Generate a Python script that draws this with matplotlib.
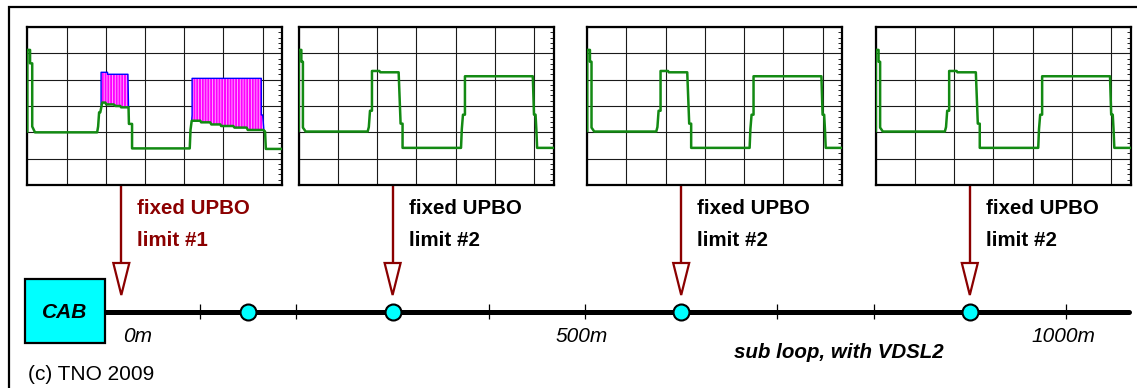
import numpy as np
import matplotlib
matplotlib.use("Agg")
import matplotlib.pyplot as plt
from matplotlib.patches import Rectangle, Polygon
from matplotlib.ticker import MultipleLocator

plt.rcParams['font.family'] = ['Liberation Sans', 'DejaVu Sans']
plt.rcParams['hatch.linewidth'] = 0.6

# spectrum of fixed UPBO limit #1 (MHz, dBm/Hz)
lim1_f = [0.0, 0.0, 0.14, 0.14, 0.25, 0.25, 0.39, 3.56, 3.61, 3.66, 3.72, 3.82, 3.98,
          4.02, 4.40, 4.50, 4.74, 4.78, 5.16, 5.18, 5.34, 5.34, 8.28, 8.32, 8.38, 8.82,
          8.86, 9.32, 9.38, 9.84, 9.88, 10.50, 10.56, 11.18, 11.24, 12.04, 12.12, 12.16, 13.0]
lim1_psd = [-119.4, -57.4, -57.4, -67.6, -67.6, -115.6, -120.0, -120.0, -115.6, -104.8,
            -104.8, -97.4, -97.4, -98.8, -98.8, -100.0, -100.0, -101.0, -101.0, -113.6,
            -113.6, -132.2, -132.2, -118.2, -111.2, -111.2, -112.4, -112.4, -114.0, -114.0,
            -115.2, -115.2, -116.4, -116.4, -118.2, -118.2, -119.4, -132.6, -132.6]

# upstream mask above limit #1 (two upstream bands)
mask1_f = [3.76, 3.76, 4.09, 4.09, 5.13, 5.16]
mask1_psd = [-99.0, -74.4, -74.4, -75.9, -75.9, -101.0]
mask2_f = [8.38, 8.40, 8.40, 11.93, 11.93, 12.0, 12.06]
mask2_psd = [-111.2, -106.8, -79.0, -79.0, -106.8, -106.8, -118.2]

# spectrum of fixed UPBO limit #2
lim2_f = [0.0, 0.0, 0.14, 0.14, 0.22, 0.22, 0.36, 3.52, 3.58, 3.64, 3.74, 3.74, 4.12,
          4.16, 5.10, 5.20, 5.30, 5.30, 8.28, 8.32, 8.38, 8.48, 8.48, 11.94, 12.0, 12.08,
          12.12, 12.16, 13.0]
lim2_psd = [-119.0, -57.4, -57.4, -66.4, -66.4, -116.4, -119.4, -119.4, -116.0, -103.6,
            -103.6, -73.4, -73.4, -74.4, -74.4, -113.4, -113.4, -131.8, -131.8, -117.6,
            -106.6, -106.6, -77.4, -77.4, -106.6, -106.6, -117.6, -131.8, -131.8]

# sub loop layout (metres)
loop_length = 1065
node_pos = [150, 300, 600, 900]
arrow_pos = [18, 300, 600, 900]
limit_labels = ['limit #1', 'limit #2', 'limit #2', 'limit #2']
dist_pos = [0, 500, 1000]
dist_labels = ['0m', '500m', '1000m']
tick_pos = list(range(100, 1001, 100))

W, H = 1137, 388
PX_PER_M = 0.962
X0 = 104  # pixel column of 0m
dred = '#8b0000'
green = '#138a13'

fig = plt.figure(figsize=(W / 100, H / 100), dpi=100)
ax = fig.add_axes([0, 0, 1, 1])
ax.set_xlim(-X0 / PX_PER_M, (W - X0) / PX_PER_M)
ax.set_ylim(H, 0)
ax.axis('off')

# outer frame
fig.patches.append(Rectangle((9 / W, -0.2), 1.2, (H - 7) / H + 0.2, transform=fig.transFigure,
                             fill=False, ec='black', lw=1.6))

# cable line
y_line = 312
ax.plot([0, loop_length], [y_line, y_line], color='black', lw=3.6, solid_capstyle='round', zorder=2)
ax.vlines(tick_pos, y_line - 8, y_line + 7, color='black', lw=0.9, zorder=2)
ax.plot(node_pos, [y_line] * len(node_pos), 'o', ms=11.5, mfc='#00ffff', mec='black',
        mew=1.5, zorder=5)

# cabinet box
ax.add_patch(Rectangle((-79 / PX_PER_M, 279), 80 / PX_PER_M, 64, fc='#00ffff', ec='black',
                       lw=1.6, zorder=4))
ax.text(-39 / PX_PER_M, 312, 'CAB', ha='center', va='center', fontsize=15,
        fontweight='bold', style='italic', zorder=6)

for pos, lab in zip(dist_pos, dist_labels):
    if pos == 0:
        ax.text(pos + 19 / PX_PER_M, 337, lab, ha='left', va='center', fontsize=15, style='italic')
    else:
        ax.text(pos - 3 / PX_PER_M, 337, lab, ha='center', va='center', fontsize=15, style='italic')

ax.text(944 / PX_PER_M - X0 / PX_PER_M, 352, 'sub loop, with VDSL2', ha='right', va='center',
        fontsize=14.8, fontweight='bold', style='italic')
ax.text(28 / PX_PER_M - X0 / PX_PER_M, 375, '(c) TNO 2009', ha='left', va='center', fontsize=15)

# arrows and labels
hw = 8 / PX_PER_M
for i, (pos, lab) in enumerate(zip(arrow_pos, limit_labels)):
    col = dred if i == 0 else 'black'
    ax.plot([pos, pos], [185, 264], color=dred, lw=1.7, zorder=3)
    ax.add_patch(Polygon([(pos - hw, 263), (pos + hw, 263), (pos, 295)], closed=True,
                         fc='white', ec=dred, lw=1.6, zorder=3))
    tx = pos + 16 / PX_PER_M
    ax.text(tx, 209, 'fixed UPBO', color=col, ha='left', va='center', fontsize=14.8, fontweight='bold')
    ax.text(tx, 241, lab, color=col, ha='left', va='center', fontsize=14.8, fontweight='bold')

# spectrum panels
for i, pos in enumerate(arrow_pos):
    left_px = X0 + pos * PX_PER_M - 94
    pax = fig.add_axes([left_px / W, (H - 185) / H, 255 / W, 158 / H])
    pax.set_xlim(0, 13)
    pax.set_ylim(-160, -40)
    pax.xaxis.set_major_locator(MultipleLocator(2))
    pax.yaxis.set_major_locator(MultipleLocator(20))
    pax.yaxis.set_minor_locator(MultipleLocator(4))
    pax.grid(True, which='major', color='#1a1a1a', lw=0.8)
    pax.tick_params(which='major', length=0, labelbottom=False, labelleft=False)
    pax.tick_params(which='minor', left=False, right=True, direction='in', length=3, width=0.6)
    for sp in pax.spines.values():
        sp.set_linewidth(1.6)
    if i == 0:
        g_f = np.array(lim1_f)
        g_p = np.array(lim1_psd)
        for mf, mp in [(mask1_f, mask1_psd), (mask2_f, mask2_psd)]:
            sel = (g_f > mf[0]) & (g_f < mf[-1])
            px = np.concatenate([mf, g_f[sel][::-1]])
            py = np.concatenate([mp, g_p[sel][::-1]])
            pax.fill(px, py, fc='#ff00ff', ec='#ffb8ff', hatch='||||||', lw=0, zorder=3)
            pax.plot(mf, mp, color='#0000ff', lw=1.0, zorder=4)
        pax.plot(g_f, g_p, color=green, lw=1.8, zorder=5)
    else:
        pax.plot(lim2_f, lim2_psd, color=green, lw=1.8, zorder=5)

fig.savefig('out.png', dpi=100)
